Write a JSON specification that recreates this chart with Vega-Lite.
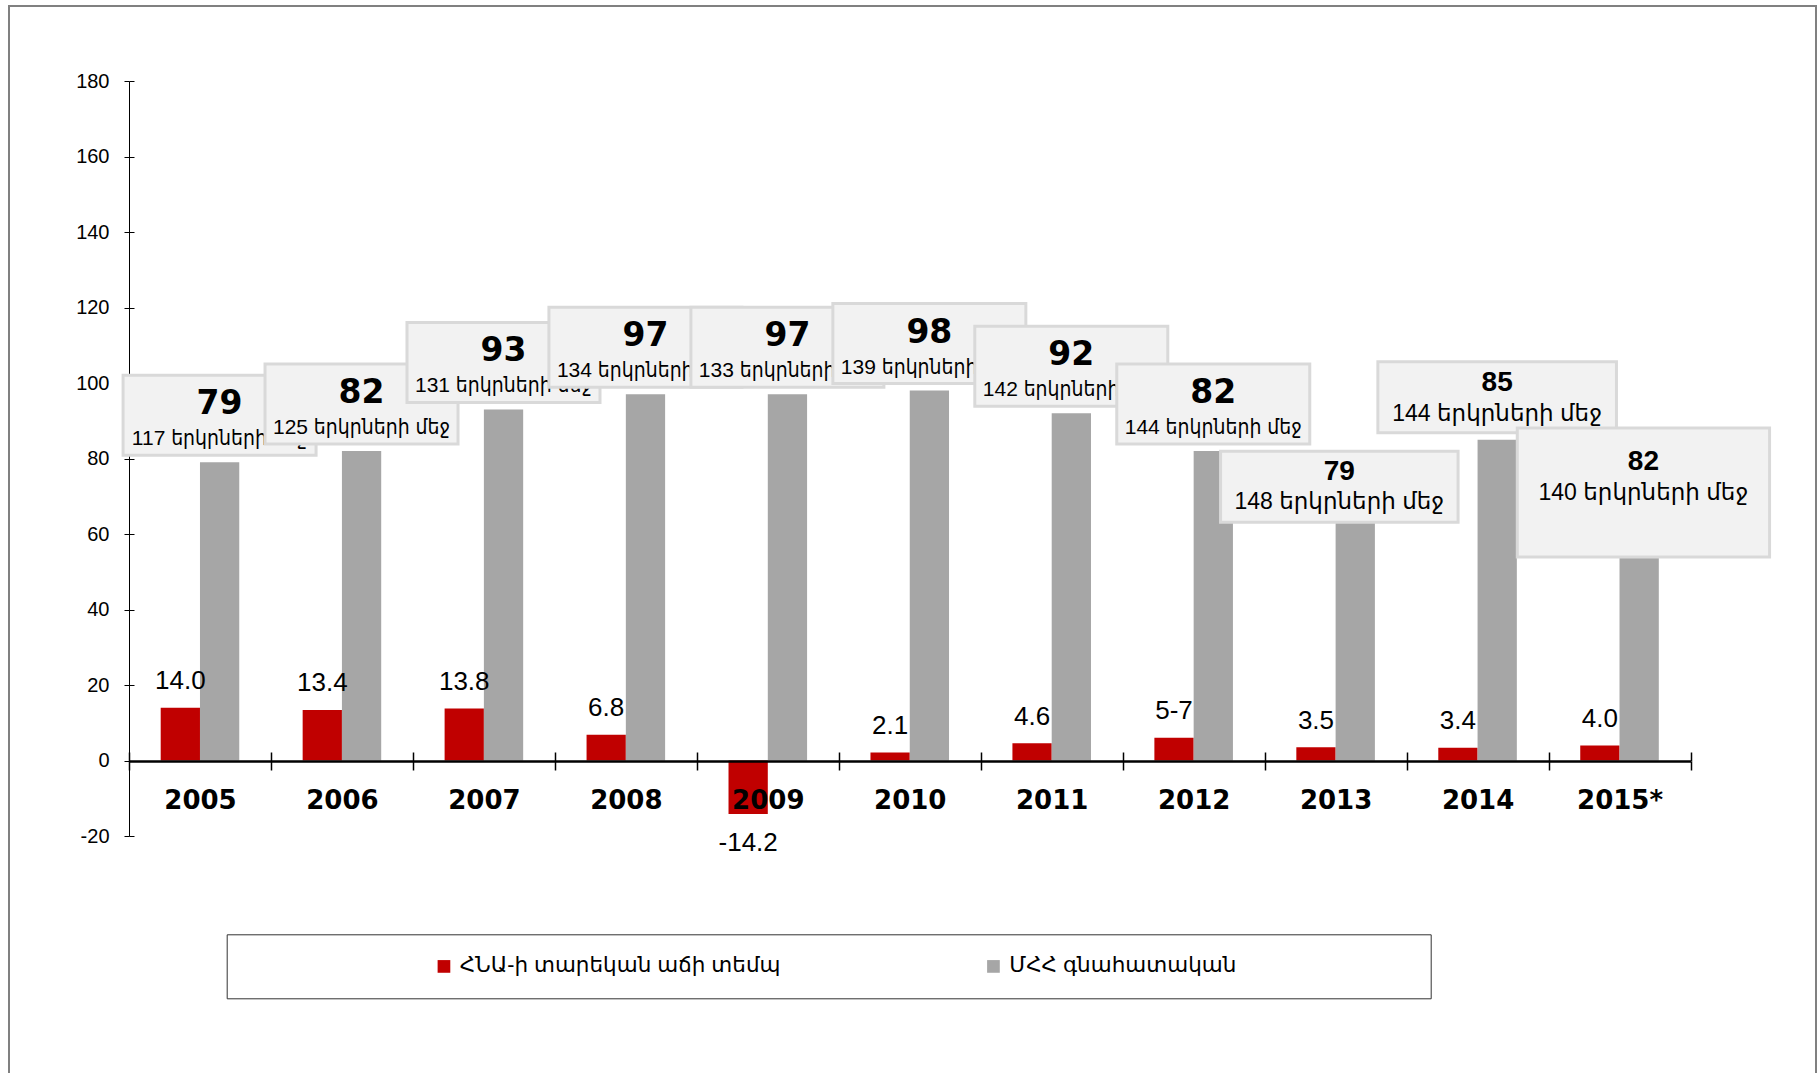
{
  "$schema": "https://vega.github.io/schema/vega-lite/v6.json",
  "width": 1807,
  "height": 1075,
  "autosize": {"type": "none"},
  "padding": {"left": 9, "top": 6, "right": 2, "bottom": -8},
  "background": "white",
  "config": {"view": {"stroke": "#808080", "strokeWidth": 2}},
  "datasets": {
    "bars": [
      {"year": "2005", "series": "ՀՆԱ-ի տարեկան աճի տեմպ", "value": 14.0, "label": "14.0"},
      {"year": "2005", "series": "ՄՀՀ գնահատական", "value": 79, "label": "79", "sub": "117 երկրների մեջ"},
      {"year": "2006", "series": "ՀՆԱ-ի տարեկան աճի տեմպ", "value": 13.4, "label": "13.4"},
      {"year": "2006", "series": "ՄՀՀ գնահատական", "value": 82, "label": "82", "sub": "125 երկրների մեջ"},
      {"year": "2007", "series": "ՀՆԱ-ի տարեկան աճի տեմպ", "value": 13.8, "label": "13.8"},
      {"year": "2007", "series": "ՄՀՀ գնահատական", "value": 93, "label": "93", "sub": "131 երկրների մեջ"},
      {"year": "2008", "series": "ՀՆԱ-ի տարեկան աճի տեմպ", "value": 6.8, "label": "6.8"},
      {"year": "2008", "series": "ՄՀՀ գնահատական", "value": 97, "label": "97", "sub": "134 երկրների մեջ"},
      {"year": "2009", "series": "ՀՆԱ-ի տարեկան աճի տեմպ", "value": -14.2, "label": "-14.2"},
      {"year": "2009", "series": "ՄՀՀ գնահատական", "value": 97, "label": "97", "sub": "133 երկրների մեջ"},
      {"year": "2010", "series": "ՀՆԱ-ի տարեկան աճի տեմպ", "value": 2.1, "label": "2.1"},
      {"year": "2010", "series": "ՄՀՀ գնահատական", "value": 98, "label": "98", "sub": "139 երկրների մեջ"},
      {"year": "2011", "series": "ՀՆԱ-ի տարեկան աճի տեմպ", "value": 4.6, "label": "4.6"},
      {"year": "2011", "series": "ՄՀՀ գնահատական", "value": 92, "label": "92", "sub": "142 երկրների մեջ"},
      {"year": "2012", "series": "ՀՆԱ-ի տարեկան աճի տեմպ", "value": 6.0, "label": "5-7"},
      {"year": "2012", "series": "ՄՀՀ գնահատական", "value": 82, "label": "82", "sub": "144 երկրների մեջ"},
      {"year": "2013", "series": "ՀՆԱ-ի տարեկան աճի տեմպ", "value": 3.5, "label": "3.5"},
      {"year": "2013", "series": "ՄՀՀ գնահատական", "value": 79, "label": "79", "sub": "148 երկրների մեջ"},
      {"year": "2014", "series": "ՀՆԱ-ի տարեկան աճի տեմպ", "value": 3.4, "label": "3.4"},
      {"year": "2014", "series": "ՄՀՀ գնահատական", "value": 85, "label": "85", "sub": "144 երկրների մեջ"},
      {"year": "2015*", "series": "ՀՆԱ-ի տարեկան աճի տեմպ", "value": 4.0, "label": "4.0"},
      {"year": "2015*", "series": "ՄՀՀ գնահատական", "value": 82, "label": "82", "sub": "140 երկրների մեջ"}
    ]
  },
  "data": {"name": "bars"},
  "resolve": {"axis": {"x": "independent", "y": "independent"}},
  "layer": [
    {
      "layer": [
        {
          "mark": {"type": "bar"},
          "encoding": {
            "x": {
              "field": "year", "type": "nominal", "sort": null,
              "scale": {"range": [120, 1681.5], "paddingInner": 0, "paddingOuter": 0},
              "axis": {
                "orient": "bottom", "offset": -320, "title": null, "zindex": 1,
                "domainColor": "#000000", "domainWidth": 2.5,
                "tickColor": "#000000", "tickWidth": 1.5, "tickSize": 9, "tickBand": "extent",
                "labelFont": "DejaVu Sans", "labelFontWeight": "bold", "labelFontSize": 26,
                "labelColor": "#000000", "labelPadding": 30, "labelBaseline": "middle", "labelAngle": 0
              }
            },
            "xOffset": {
              "field": "series", "type": "nominal",
              "sort": ["ՀՆԱ-ի տարեկան աճի տեմպ", "ՄՀՀ գնահատական"],
              "scale": {"paddingInner": 0, "paddingOuter": 0.807}
            },
            "y": {
              "field": "value", "type": "quantitative",
              "scale": {"domain": [-20, 180], "range": [830, 75], "nice": false, "zero": false},
              "axis": {
                "orient": "left", "offset": -120, "title": null, "grid": false,
                "values": [-20, 0, 20, 40, 60, 80, 100, 120, 140, 160, 180],
                "labelExpr": "replace(datum.label, '\u2212', '-')",
                "domainColor": "#000000", "domainWidth": 1,
                "tickColor": "#000000", "tickWidth": 1, "tickSize": 5,
                "labelFont": "Liberation Sans", "labelFontSize": 20, "labelColor": "#000000", "labelPadding": 15
              }
            },
            "color": {
              "field": "series", "type": "nominal",
              "scale": {"domain": ["ՀՆԱ-ի տարեկան աճի տեմպ", "ՄՀՀ գնահատական"], "range": ["#c00000", "#a6a6a6"]},
              "legend": {
                "orient": "none", "legendX": 217.7, "legendY": 928.3, "direction": "horizontal",
                "title": "\u00a0", "titleOrient": "left", "titlePadding": 185.5, "titleFontSize": 20,
                "padding": 21, "strokeColor": "#333333",
                "symbolType": "square", "symbolSize": 161, "symbolStrokeWidth": 0, "symbolOpacity": 1,
                "labelFont": "Liberation Sans, DejaVu Sans", "labelFontSize": 21.5, "labelColor": "#000000",
                "labelOffset": 5, "labelLimit": 1000, "columnPadding": 201.5,
                "labelExpr": "datum.label == 'ՄՀՀ գնահատական' ? datum.label + '\u2800\u2800\u2800\u2800\u2800\u2800\u2800\u2800\u2800\u2800\u2800' : datum.label"
              }
            }
          }
        },
        {
          "transform": [{"filter": "!isValid(datum.sub) && datum.value >= 0"}],
          "mark": {"type": "text", "font": "Liberation Sans", "fontSize": 26, "color": "#000000", "baseline": "middle", "dy": -26.5},
          "encoding": {
            "x": {"field": "year", "type": "nominal", "sort": null},
            "xOffset": {"field": "series", "type": "nominal", "sort": ["ՀՆԱ-ի տարեկան աճի տեմպ", "ՄՀՀ գնահատական"]},
            "y": {"field": "value", "type": "quantitative"},
            "text": {"field": "label"}
          }
        },
        {
          "transform": [{"filter": "!isValid(datum.sub) && datum.value < 0"}],
          "mark": {"type": "text", "font": "Liberation Sans", "fontSize": 26, "color": "#000000", "baseline": "middle", "dy": 29},
          "encoding": {
            "x": {"field": "year", "type": "nominal", "sort": null},
            "xOffset": {"field": "series", "type": "nominal", "sort": ["ՀՆԱ-ի տարեկան աճի տեմպ", "ՄՀՀ գնահատական"]},
            "y": {"field": "value", "type": "quantitative"},
            "text": {"field": "label"}
          }
        },
        {
          "transform": [{"filter": {"field": "year", "equal": "2005"}}, {"filter": "isValid(datum.sub)"}],
          "encoding": {"x": {"field": "year", "type": "nominal", "sort": null}, "y": {"field": "value", "type": "quantitative"}},
          "layer": [
            {"mark": {"type": "rect", "width": 193, "xOffset": 19.6, "yOffset": -87, "y2Offset": -7, "fill": "#f2f2f2", "stroke": "#d9d9d9", "strokeWidth": 3}, "encoding": {"y2": {"field": "value"}}},
            {"mark": {"type": "text", "dx": 19.6, "dy": -58, "font": "DejaVu Sans", "fontWeight": "bold", "fontSize": 33, "color": "#000000", "baseline": "middle"}, "encoding": {"text": {"field": "label"}}},
            {"mark": {"type": "text", "dx": 19.6, "dy": -23, "font": "Liberation Sans, DejaVu Sans Condensed", "fontSize": 21, "color": "#000000", "baseline": "middle"}, "encoding": {"text": {"field": "sub"}}}
          ]
        },
        {
          "transform": [{"filter": {"field": "year", "equal": "2006"}}, {"filter": "isValid(datum.sub)"}],
          "encoding": {"x": {"field": "year", "type": "nominal", "sort": null}, "y": {"field": "value", "type": "quantitative"}},
          "layer": [
            {"mark": {"type": "rect", "width": 193, "xOffset": 19.6, "yOffset": -87, "y2Offset": -7, "fill": "#f2f2f2", "stroke": "#d9d9d9", "strokeWidth": 3}, "encoding": {"y2": {"field": "value"}}},
            {"mark": {"type": "text", "dx": 19.6, "dy": -58, "font": "DejaVu Sans", "fontWeight": "bold", "fontSize": 33, "color": "#000000", "baseline": "middle"}, "encoding": {"text": {"field": "label"}}},
            {"mark": {"type": "text", "dx": 19.6, "dy": -23, "font": "Liberation Sans, DejaVu Sans Condensed", "fontSize": 21, "color": "#000000", "baseline": "middle"}, "encoding": {"text": {"field": "sub"}}}
          ]
        },
        {
          "transform": [{"filter": {"field": "year", "equal": "2007"}}, {"filter": "isValid(datum.sub)"}],
          "encoding": {"x": {"field": "year", "type": "nominal", "sort": null}, "y": {"field": "value", "type": "quantitative"}},
          "layer": [
            {"mark": {"type": "rect", "width": 193, "xOffset": 19.6, "yOffset": -87, "y2Offset": -7, "fill": "#f2f2f2", "stroke": "#d9d9d9", "strokeWidth": 3}, "encoding": {"y2": {"field": "value"}}},
            {"mark": {"type": "text", "dx": 19.6, "dy": -58, "font": "DejaVu Sans", "fontWeight": "bold", "fontSize": 33, "color": "#000000", "baseline": "middle"}, "encoding": {"text": {"field": "label"}}},
            {"mark": {"type": "text", "dx": 19.6, "dy": -23, "font": "Liberation Sans, DejaVu Sans Condensed", "fontSize": 21, "color": "#000000", "baseline": "middle"}, "encoding": {"text": {"field": "sub"}}}
          ]
        },
        {
          "transform": [{"filter": {"field": "year", "equal": "2008"}}, {"filter": "isValid(datum.sub)"}],
          "encoding": {"x": {"field": "year", "type": "nominal", "sort": null}, "y": {"field": "value", "type": "quantitative"}},
          "layer": [
            {"mark": {"type": "rect", "width": 193, "xOffset": 19.6, "yOffset": -87, "y2Offset": -7, "fill": "#f2f2f2", "stroke": "#d9d9d9", "strokeWidth": 3}, "encoding": {"y2": {"field": "value"}}},
            {"mark": {"type": "text", "dx": 19.6, "dy": -58, "font": "DejaVu Sans", "fontWeight": "bold", "fontSize": 33, "color": "#000000", "baseline": "middle"}, "encoding": {"text": {"field": "label"}}},
            {"mark": {"type": "text", "dx": 19.6, "dy": -23, "font": "Liberation Sans, DejaVu Sans Condensed", "fontSize": 21, "color": "#000000", "baseline": "middle"}, "encoding": {"text": {"field": "sub"}}}
          ]
        },
        {
          "transform": [{"filter": {"field": "year", "equal": "2009"}}, {"filter": "isValid(datum.sub)"}],
          "encoding": {"x": {"field": "year", "type": "nominal", "sort": null}, "y": {"field": "value", "type": "quantitative"}},
          "layer": [
            {"mark": {"type": "rect", "width": 193, "xOffset": 19.6, "yOffset": -87, "y2Offset": -7, "fill": "#f2f2f2", "stroke": "#d9d9d9", "strokeWidth": 3}, "encoding": {"y2": {"field": "value"}}},
            {"mark": {"type": "text", "dx": 19.6, "dy": -58, "font": "DejaVu Sans", "fontWeight": "bold", "fontSize": 33, "color": "#000000", "baseline": "middle"}, "encoding": {"text": {"field": "label"}}},
            {"mark": {"type": "text", "dx": 19.6, "dy": -23, "font": "Liberation Sans, DejaVu Sans Condensed", "fontSize": 21, "color": "#000000", "baseline": "middle"}, "encoding": {"text": {"field": "sub"}}}
          ]
        },
        {
          "transform": [{"filter": {"field": "year", "equal": "2010"}}, {"filter": "isValid(datum.sub)"}],
          "encoding": {"x": {"field": "year", "type": "nominal", "sort": null}, "y": {"field": "value", "type": "quantitative"}},
          "layer": [
            {"mark": {"type": "rect", "width": 193, "xOffset": 19.6, "yOffset": -87, "y2Offset": -7, "fill": "#f2f2f2", "stroke": "#d9d9d9", "strokeWidth": 3}, "encoding": {"y2": {"field": "value"}}},
            {"mark": {"type": "text", "dx": 19.6, "dy": -58, "font": "DejaVu Sans", "fontWeight": "bold", "fontSize": 33, "color": "#000000", "baseline": "middle"}, "encoding": {"text": {"field": "label"}}},
            {"mark": {"type": "text", "dx": 19.6, "dy": -23, "font": "Liberation Sans, DejaVu Sans Condensed", "fontSize": 21, "color": "#000000", "baseline": "middle"}, "encoding": {"text": {"field": "sub"}}}
          ]
        },
        {
          "transform": [{"filter": {"field": "year", "equal": "2011"}}, {"filter": "isValid(datum.sub)"}],
          "encoding": {"x": {"field": "year", "type": "nominal", "sort": null}, "y": {"field": "value", "type": "quantitative"}},
          "layer": [
            {"mark": {"type": "rect", "width": 193, "xOffset": 19.6, "yOffset": -87, "y2Offset": -7, "fill": "#f2f2f2", "stroke": "#d9d9d9", "strokeWidth": 3}, "encoding": {"y2": {"field": "value"}}},
            {"mark": {"type": "text", "dx": 19.6, "dy": -58, "font": "DejaVu Sans", "fontWeight": "bold", "fontSize": 33, "color": "#000000", "baseline": "middle"}, "encoding": {"text": {"field": "label"}}},
            {"mark": {"type": "text", "dx": 19.6, "dy": -23, "font": "Liberation Sans, DejaVu Sans Condensed", "fontSize": 21, "color": "#000000", "baseline": "middle"}, "encoding": {"text": {"field": "sub"}}}
          ]
        },
        {
          "transform": [{"filter": {"field": "year", "equal": "2012"}}, {"filter": "isValid(datum.sub)"}],
          "encoding": {"x": {"field": "year", "type": "nominal", "sort": null}, "y": {"field": "value", "type": "quantitative"}},
          "layer": [
            {"mark": {"type": "rect", "width": 193, "xOffset": 19.6, "yOffset": -87, "y2Offset": -7, "fill": "#f2f2f2", "stroke": "#d9d9d9", "strokeWidth": 3}, "encoding": {"y2": {"field": "value"}}},
            {"mark": {"type": "text", "dx": 19.6, "dy": -58, "font": "DejaVu Sans", "fontWeight": "bold", "fontSize": 33, "color": "#000000", "baseline": "middle"}, "encoding": {"text": {"field": "label"}}},
            {"mark": {"type": "text", "dx": 19.6, "dy": -23, "font": "Liberation Sans, DejaVu Sans Condensed", "fontSize": 21, "color": "#000000", "baseline": "middle"}, "encoding": {"text": {"field": "sub"}}}
          ]
        },
        {
          "transform": [{"filter": {"field": "year", "equal": "2013"}}, {"filter": "isValid(datum.sub)"}],
          "encoding": {"x": {"field": "year", "type": "nominal", "sort": null}, "y": {"field": "value", "type": "quantitative"}},
          "layer": [
            {"mark": {"type": "rect", "width": 237.5, "xOffset": 3.7, "yOffset": -11, "y2Offset": 60, "fill": "#f2f2f2", "stroke": "#d9d9d9", "strokeWidth": 3}, "encoding": {"y2": {"field": "value"}}},
            {"mark": {"type": "text", "dx": 3.7, "dy": 10, "font": "Liberation Sans", "fontWeight": "bold", "fontSize": 28, "color": "#000000", "baseline": "middle"}, "encoding": {"text": {"field": "label"}}},
            {"mark": {"type": "text", "dx": 3.7, "dy": 40, "font": "Liberation Sans, DejaVu Sans", "fontSize": 23, "color": "#000000", "baseline": "middle"}, "encoding": {"text": {"field": "sub"}}}
          ]
        },
        {
          "transform": [{"filter": {"field": "year", "equal": "2014"}}, {"filter": "isValid(datum.sub)"}],
          "encoding": {"x": {"field": "year", "type": "nominal", "sort": null}, "y": {"field": "value", "type": "quantitative"}},
          "layer": [
            {"mark": {"type": "rect", "width": 238.6, "xOffset": 19.6, "yOffset": -78, "y2Offset": -7, "fill": "#f2f2f2", "stroke": "#d9d9d9", "strokeWidth": 3}, "encoding": {"y2": {"field": "value"}}},
            {"mark": {"type": "text", "dx": 19.6, "dy": -57, "font": "Liberation Sans", "fontWeight": "bold", "fontSize": 28, "color": "#000000", "baseline": "middle"}, "encoding": {"text": {"field": "label"}}},
            {"mark": {"type": "text", "dx": 19.6, "dy": -26, "font": "Liberation Sans, DejaVu Sans", "fontSize": 23, "color": "#000000", "baseline": "middle"}, "encoding": {"text": {"field": "sub"}}}
          ]
        },
        {
          "transform": [{"filter": {"field": "year", "equal": "2015*"}}, {"filter": "isValid(datum.sub)"}],
          "encoding": {"x": {"field": "year", "type": "nominal", "sort": null}, "y": {"field": "value", "type": "quantitative"}},
          "layer": [
            {"mark": {"type": "rect", "width": 252.3, "xOffset": 23.9, "yOffset": -23, "y2Offset": 106, "fill": "#f2f2f2", "stroke": "#d9d9d9", "strokeWidth": 3}, "encoding": {"y2": {"field": "value"}}},
            {"mark": {"type": "text", "dx": 23.9, "dy": 11, "font": "Liberation Sans", "fontWeight": "bold", "fontSize": 28, "color": "#000000", "baseline": "middle"}, "encoding": {"text": {"field": "label"}}},
            {"mark": {"type": "text", "dx": 23.9, "dy": 42.5, "font": "Liberation Sans, DejaVu Sans", "fontSize": 23, "color": "#000000", "baseline": "middle"}, "encoding": {"text": {"field": "sub"}}}
          ]
        }
      ]
    },
    {
      "mark": {"type": "point", "opacity": 0},
      "encoding": {
        "x": {
          "field": "year", "type": "nominal", "sort": null,
          "axis": {"orient": "top", "offset": -755, "title": null, "domain": false, "labels": false,
                   "tickColor": "#000000", "tickWidth": 1.5, "tickSize": 9, "tickBand": "extent", "zindex": 1}
        },
        "y": {
          "field": "value", "type": "quantitative",
          "axis": {"orient": "right", "offset": -1687, "title": null, "domain": false, "labels": false, "grid": false,
                   "values": [-20, 0, 20, 40, 60, 80, 100, 120, 140, 160, 180],
                   "tickColor": "#000000", "tickWidth": 1, "tickSize": 5}
        }
      }
    }
  ]
}
